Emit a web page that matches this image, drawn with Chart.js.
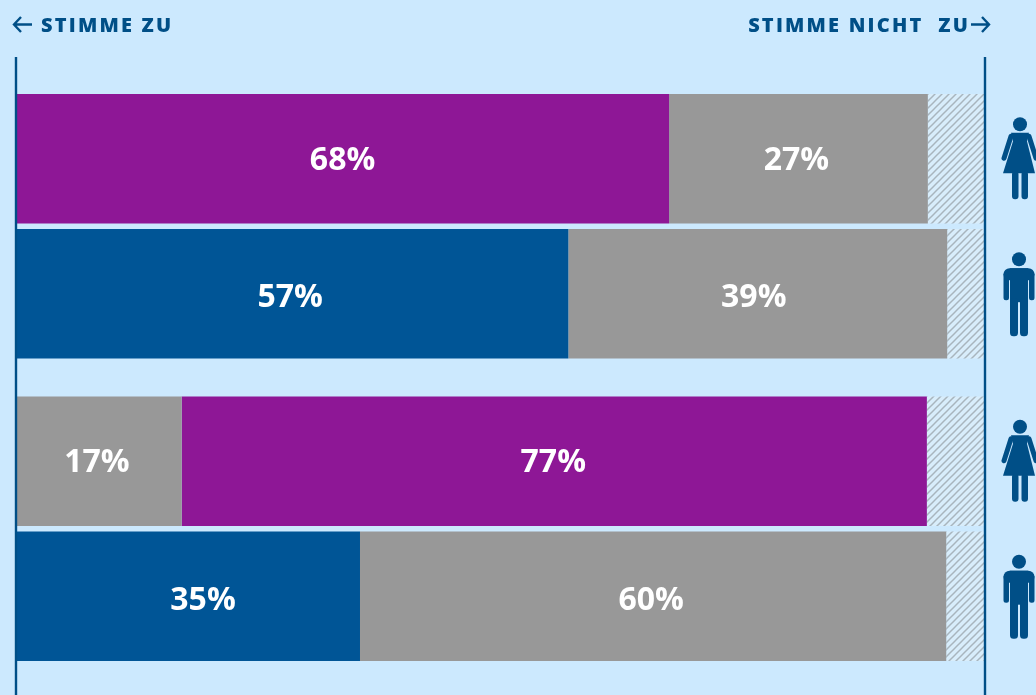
<!DOCTYPE html>
<html><head><meta charset="utf-8">
<script src="https://cdn.jsdelivr.net/npm/chart.js@4"></script>
<style>html,body{margin:0;padding:0;background:#cce9fe;overflow:hidden}#w{width:1036px;height:695px;position:relative}</style>
</head><body><div id="w"><canvas id="c" width="1036" height="695"></canvas></div>
<script>
const groups = ['Aussage 1', 'Aussage 2'];
const womenFirst = [67.4, 17.1];
const womenSecond = [26.7, 76.9];
const womenRest = [5.9, 6.0];
const menFirst = [57.0, 35.5];
const menSecond = [39.1, 60.5];
const menRest = [3.9, 4.0];
const womenFirstLabels = ['68%', '17%'];
const womenSecondLabels = ['27%', '77%'];
const menFirstLabels = ['57%', '35%'];
const menSecondLabels = ['39%', '60%'];
const headerLeft = 'STIMME ZU';
const headerRight = 'STIMME NICHT  ZU';

const PURPLE = '#8e1796', BLUE = '#005596', GREY = '#989898', NAVY = '#004f87';

function hatch() {
  const s = 7, p = document.createElement('canvas');
  p.width = s; p.height = s;
  const g = p.getContext('2d');
  g.fillStyle = '#d8edfb'; g.fillRect(0, 0, s, s);
  g.strokeStyle = '#a8b5be'; g.lineWidth = 1.5;
  for (const o of [-s, 0, s]) { g.beginPath(); g.moveTo(o - 1, s + 1); g.lineTo(o + s + 1, -1); g.stroke(); }
  return g.createPattern(p, 'repeat');
}
const pat = hatch();

function woman(g, x, c) {
  g.beginPath(); g.arc(x + 2, c - 35, 7, 0, 7); g.fill();
  g.save();
  g.strokeStyle = g.fillStyle; g.lineWidth = 5; g.lineCap = 'round';
  g.beginPath(); g.moveTo(x - 7, c - 23); g.lineTo(x - 14, c - 1); g.moveTo(x + 11, c - 23); g.lineTo(x + 18, c - 1); g.stroke();
  g.restore();
  g.beginPath();
  g.moveTo(x - 7, c - 26.5);
  g.lineTo(x + 11, c - 26.5);
  g.lineTo(x + 9, c - 18);
  g.lineTo(x + 17, c + 14);
  g.lineTo(x - 15, c + 14);
  g.lineTo(x - 5, c - 18);
  g.closePath();
  g.fill();
  g.beginPath(); g.roundRect(x - 6, c + 12, 6.5, 28, 3); g.roundRect(x + 3.5, c + 12, 6.5, 28, 3); g.fill();
}
function man(g, x, c) {
  g.beginPath(); g.arc(x + 1, c - 35, 7, 0, 7); g.fill();
  g.beginPath(); g.roundRect(x - 14.5, c - 26, 31, 12, 6); g.fill();
  g.beginPath(); g.roundRect(x - 14.5, c - 22, 5.5, 28, 2.5); g.roundRect(x + 11, c - 22, 5.5, 28, 2.5); g.fill();
  g.beginPath(); g.rect(x - 8, c - 26, 18, 34); g.fill();
  g.beginPath(); g.roundRect(x - 8, c + 4, 8, 38, 3.5); g.roundRect(x + 2, c + 4, 8, 38, 3.5); g.fill();
}

const labelShift = { '27%': -2, '57%': -2, '39%': -4, '17%': -2, '77%': -1, '35%': 15, '60%': -2 };

const overlay = {
  id: 'overlay',
  afterDatasetsDraw(ch) {
    const g = ch.ctx, xs = ch.scales.x;
    g.save();
    g.strokeStyle = NAVY; g.lineWidth = 2.4;
    for (const v of [0, 100]) {
      const x = xs.getPixelForValue(v);
      g.beginPath(); g.moveTo(x, 57); g.lineTo(x, ch.height); g.stroke();
    }
    g.fillStyle = '#fff'; g.font = '700 32px "Open Sans"'; g.textAlign = 'center'; g.textBaseline = 'middle';
    ch.data.datasets.forEach((d, i) => {
      if (!d.texts) return;
      const drop = d.stack === 'm' ? 4.5 : 2;
      ch.getDatasetMeta(i).data.forEach((el, j) => {
        const cx = (el.base + el.x) / 2 + (labelShift[d.texts[j]] || 0);
        g.fillText(d.texts[j], cx, el.y + drop);
      });
    });
    g.fillStyle = NAVY;
    const iconX = 1018;
    ch.data.datasets.forEach((d, i) => {
      if (!d.icon) return;
      ch.getDatasetMeta(i).data.forEach(el => d.icon(g, iconX, el.y + 0.5));
    });
    g.font = '800 20px "Open Sans"'; g.textBaseline = 'middle';
    g.letterSpacing = '2.2px';
    g.textAlign = 'left'; g.fillText(headerLeft, 41, 26);
    g.textAlign = 'right'; g.fillText(headerRight, 970, 26);
    g.letterSpacing = '0px';
    g.strokeStyle = NAVY; g.lineWidth = 2.4;
    g.beginPath(); g.moveTo(32, 24.5); g.lineTo(14, 24.5); g.moveTo(21, 17); g.lineTo(14, 24.5); g.lineTo(21, 32); g.stroke();
    g.beginPath(); g.moveTo(971, 24.5); g.lineTo(989, 24.5); g.moveTo(982, 17); g.lineTo(989, 24.5); g.lineTo(982, 32); g.stroke();
    g.restore();
  }
};

new Chart(document.getElementById('c'), {
  type: 'bar',
  data: {
    labels: groups,
    datasets: [
      { data: womenFirst, stack: 'f', backgroundColor: [PURPLE, GREY], texts: womenFirstLabels, icon: woman },
      { data: womenSecond, stack: 'f', backgroundColor: [GREY, PURPLE], texts: womenSecondLabels },
      { data: womenRest, stack: 'f', backgroundColor: pat },
      { data: menFirst, stack: 'm', backgroundColor: BLUE, texts: menFirstLabels, icon: man },
      { data: menSecond, stack: 'm', backgroundColor: GREY, texts: menSecondLabels },
      { data: menRest, stack: 'm', backgroundColor: pat }
    ]
  },
  options: {
    indexAxis: 'y',
    responsive: false,
    animation: false,
    layout: { padding: { left: 16, right: 51, top: 75, bottom: 15 } },
    categoryPercentage: 0.892,
    barPercentage: 0.96,
    plugins: { legend: { display: false }, tooltip: { enabled: false } },
    scales: {
      x: { stacked: true, min: 0, max: 100, display: false },
      y: { stacked: true, display: false }
    }
  },
  plugins: [overlay]
});
</script></body></html>
